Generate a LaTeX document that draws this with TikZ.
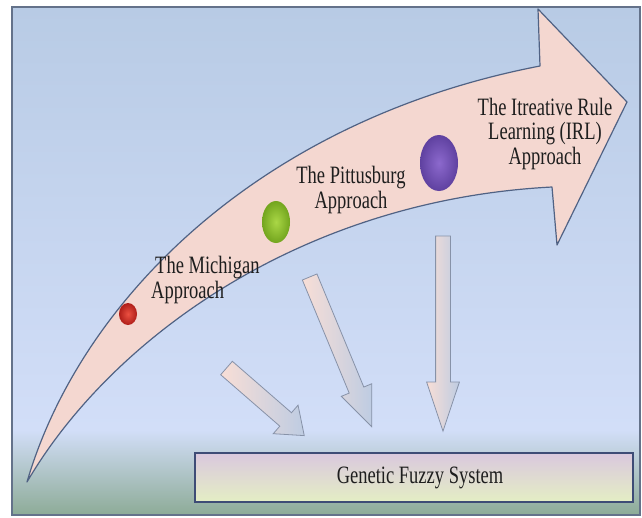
\documentclass[tikz,border=0pt]{standalone}
\usepackage{fontspec}
\setmainfont{Liberation Serif}
\usetikzlibrary{shapes.geometric,shapes.arrows}
\definecolor{panelTop}{RGB}{184,203,229}
\definecolor{panelMid}{RGB}{210,222,248}
\definecolor{panelLow}{RGB}{141,171,151}
\definecolor{panelEdge}{RGB}{100,114,138}
\definecolor{bandPink}{RGB}{244,215,208}
\definecolor{bandLine}{RGB}{80,98,132}
\definecolor{flowPink}{RGB}{248,222,214}
\definecolor{flowBlue}{RGB}{190,204,226}
\definecolor{flowLine}{RGB}{135,146,168}
\definecolor{boxTop}{RGB}{218,200,222}
\definecolor{boxLow}{RGB}{228,238,196}
\definecolor{boxLine}{RGB}{62,76,118}
\definecolor{txt}{RGB}{30,30,30}
\definecolor{redIn}{RGB}{235,80,65}
\definecolor{redOut}{RGB}{175,30,25}
\definecolor{greenIn}{RGB}{170,215,70}
\definecolor{greenOut}{RGB}{115,165,30}
\definecolor{violetIn}{RGB}{140,105,205}
\definecolor{violetOut}{RGB}{95,65,160}
\newcommand{\tallText}[2][c]{\scalebox{1}[1.35]{\begin{tabular}{@{}#1@{}}#2\end{tabular}}}

\begin{document}
\begin{tikzpicture}[x=1pt, y=-1pt,
	lbl/.style={font=\fontsize{18.5}{18.5}\selectfont, text=txt, inner sep=0pt},
	flow/.style={shape=single arrow, draw=flowLine, line width=0.8pt, left color=flowPink, right color=flowBlue, minimum width=0pt, inner sep=0pt},
	dot/.style={shape=ellipse, inner sep=0pt}]
	\useasboundingbox (0,0) rectangle (642,517);
	% Paths, nodes and arrows:
	\shade[top color=panelTop, bottom color=panelMid] (12,7) rectangle (640,430);
	\shade[top color=panelMid, bottom color=panelLow] (12,430) rectangle (640,515);
	\draw[panelEdge, line width=1.2pt] (12,7) rectangle (640,515);
	\draw[bandLine, fill=bandPink, line width=1.2pt, line join=round] (27,482) .. controls (80,300) and (260,120) .. (540,66) -- (538,9) -- (627,102) -- (557,245) -- (552,187) .. controls (300,200) and (110,340) .. (27,482) -- cycle;
	\node[dot, minimum width=18pt, minimum height=22pt, inner color=redIn, outer color=redOut](B1) at (128,314){};
	\node[dot, minimum width=28pt, minimum height=42pt, inner color=greenIn, outer color=greenOut](B2) at (276,222){};
	\node[dot, minimum width=38pt, minimum height=56pt, inner color=violetIn, outer color=violetOut](B3) at (439,163){};
	\node[lbl, anchor=west](N1) at (151,281){\tallText[l]{\hspace{4pt}The Michigan\\Approach}};
	\node[lbl](N2) at (351,191){\tallText{The Pittusburg\\Approach}};
	\node[lbl](N3) at (545,135){\tallText{The Itreative Rule\\Learning (IRL)\\Approach}};
	\node[flow, inner ysep=8.5pt, single arrow head extend=10pt, single arrow tip angle=75, minimum height=103pt, rotate=-41](A1) at (261,398){};
	\node[flow, inner ysep=7.5pt, single arrow head extend=8.5pt, single arrow tip angle=45, minimum height=162pt, rotate=-67.5](A2) at (337,343){};
	\node[flow, inner ysep=7pt, single arrow head extend=9pt, single arrow tip angle=37, minimum height=195pt, rotate=-90](A3) at (443,322.5){};
	\node[draw=boxLine, line width=1.5pt, top color=boxTop, bottom color=boxLow, minimum width=438pt, minimum height=49pt, inner sep=0pt](G1) at (414,477.5){};
	\node[lbl](N4) at (420,478){\tallText{Genetic Fuzzy System}};
\end{tikzpicture}
\end{document}
